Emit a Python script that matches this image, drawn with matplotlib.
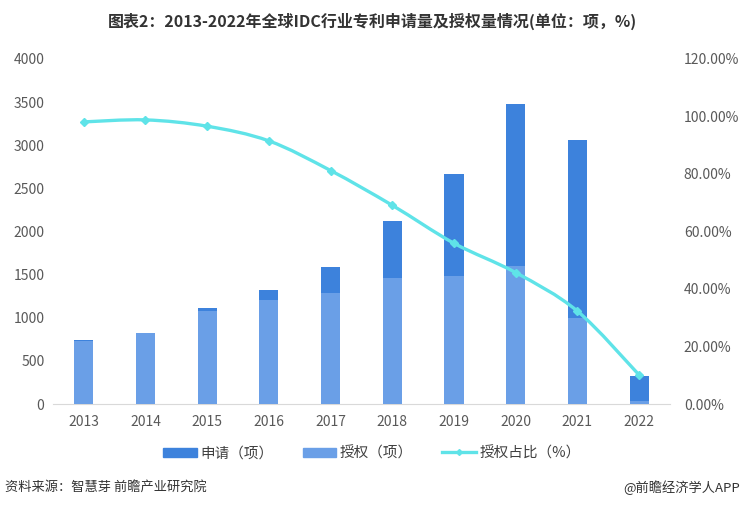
import matplotlib
matplotlib.use("Agg")
import matplotlib.pyplot as plt
from matplotlib.path import Path
from matplotlib.patches import PathPatch
from matplotlib.lines import Line2D
from matplotlib.patches import Patch
from matplotlib.ticker import FuncFormatter

plt.rcParams['font.family'] = ['Noto Sans CJK SC', 'DejaVu Sans']

years = ['2013', '2014', '2015', '2016', '2017', '2018', '2019', '2020', '2021', '2022']
apply_cnt = [740, 828, 1117, 1325, 1588, 2122, 2667, 3482, 3061, 328]
grant_cnt = [730, 823, 1078, 1209, 1287, 1465, 1488, 1600, 994, 30]
grant_pct = [98.1, 98.8, 96.6, 91.5, 81.2, 69.1, 55.9, 45.7, 32.3, 10.1]

c_apply = '#3d82dc'
c_grant = '#6a9fe7'
c_line = '#5fe3e8'
c_text = '#595959'

fig = plt.figure(figsize=(7.44, 5.08), dpi=100)
ax = fig.add_axes([0.071, 0.2047, 0.8295, 0.6793])
ax2 = ax.twinx()

x = list(range(len(years)))
w = 0.31
ax.bar(x, apply_cnt, width=w, color=c_apply, zorder=2)
ax.bar(x, grant_cnt, width=w, color=c_grant, zorder=3)

ax.set_xlim(-0.5, len(years) - 0.5)
ax.set_ylim(0, 4000)
ax.set_yticks(range(0, 4001, 500))
ax.set_xticks(x)
ax.set_xticklabels(years)
for s in ['top', 'right', 'left']:
    ax.spines[s].set_visible(False)
ax.spines['bottom'].set_color('#d9d9d9')
ax.tick_params(axis='both', length=0, labelsize=10, colors=c_text)
ax.tick_params(axis='x', pad=8)
ax.tick_params(axis='y', pad=6)

# smoothed line (catmull-rom -> bezier) through the points
verts = [(x[0], grant_pct[0])]
codes = [Path.MOVETO]
n = len(x)
for i in range(n - 1):
    p0 = (x[max(i - 1, 0)], grant_pct[max(i - 1, 0)])
    p1 = (x[i], grant_pct[i])
    p2 = (x[i + 1], grant_pct[i + 1])
    p3 = (x[min(i + 2, n - 1)], grant_pct[min(i + 2, n - 1)])
    c1 = (p1[0] + (p2[0] - p0[0]) / 6, p1[1] + (p2[1] - p0[1]) / 6)
    c2 = (p2[0] - (p3[0] - p1[0]) / 6, p2[1] - (p3[1] - p1[1]) / 6)
    verts += [c1, c2, p2]
    codes += [Path.CURVE4] * 3
ax2.add_patch(PathPatch(Path(verts, codes), fill=False, edgecolor=c_line,
                        lw=2.4, zorder=4, capstyle='round', joinstyle='round'))
ax2.plot(x, grant_pct, linestyle='none', marker='D', markersize=4,
         color=c_line, zorder=5)

ax2.set_ylim(0, 120)
ax2.set_yticks(range(0, 121, 20))
ax2.yaxis.set_major_formatter(FuncFormatter(lambda v, p: '%.2f%%' % v))
for s in ['top', 'right', 'left', 'bottom']:
    ax2.spines[s].set_visible(False)
ax2.tick_params(axis='y', length=0, labelsize=10, colors=c_text, pad=10)

handles = [Patch(color=c_apply), Patch(color=c_grant),
           Line2D([0], [0], color=c_line, lw=2.4, marker='D', markersize=3)]
fig.legend(handles, ['申请（项）', '授权（项）', '授权占比（%）'],
           loc='center', bbox_to_anchor=(0.5, 0.108), ncol=3, frameon=False,
           fontsize=10.5, handlelength=2.3, handleheight=0.55, handletextpad=0.25,
           columnspacing=2.0, labelcolor='#404040')

fig.text(0.5, 0.958, '图表2：2013-2022年全球IDC行业专利申请量及授权量情况(单位：项，%)',
         ha='center', va='center', fontsize=11.5, fontweight='bold', color='#333333')
fig.text(0.007, 0.04, '资料来源：智慧芽 前瞻产业研究院', ha='left', va='center',
         fontsize=9.5, color='#333333')
fig.text(0.995, 0.04, '@前瞻经济学人APP', ha='right', va='center',
         fontsize=9.5, color='#333333')

fig.savefig('out.png', dpi=100)
